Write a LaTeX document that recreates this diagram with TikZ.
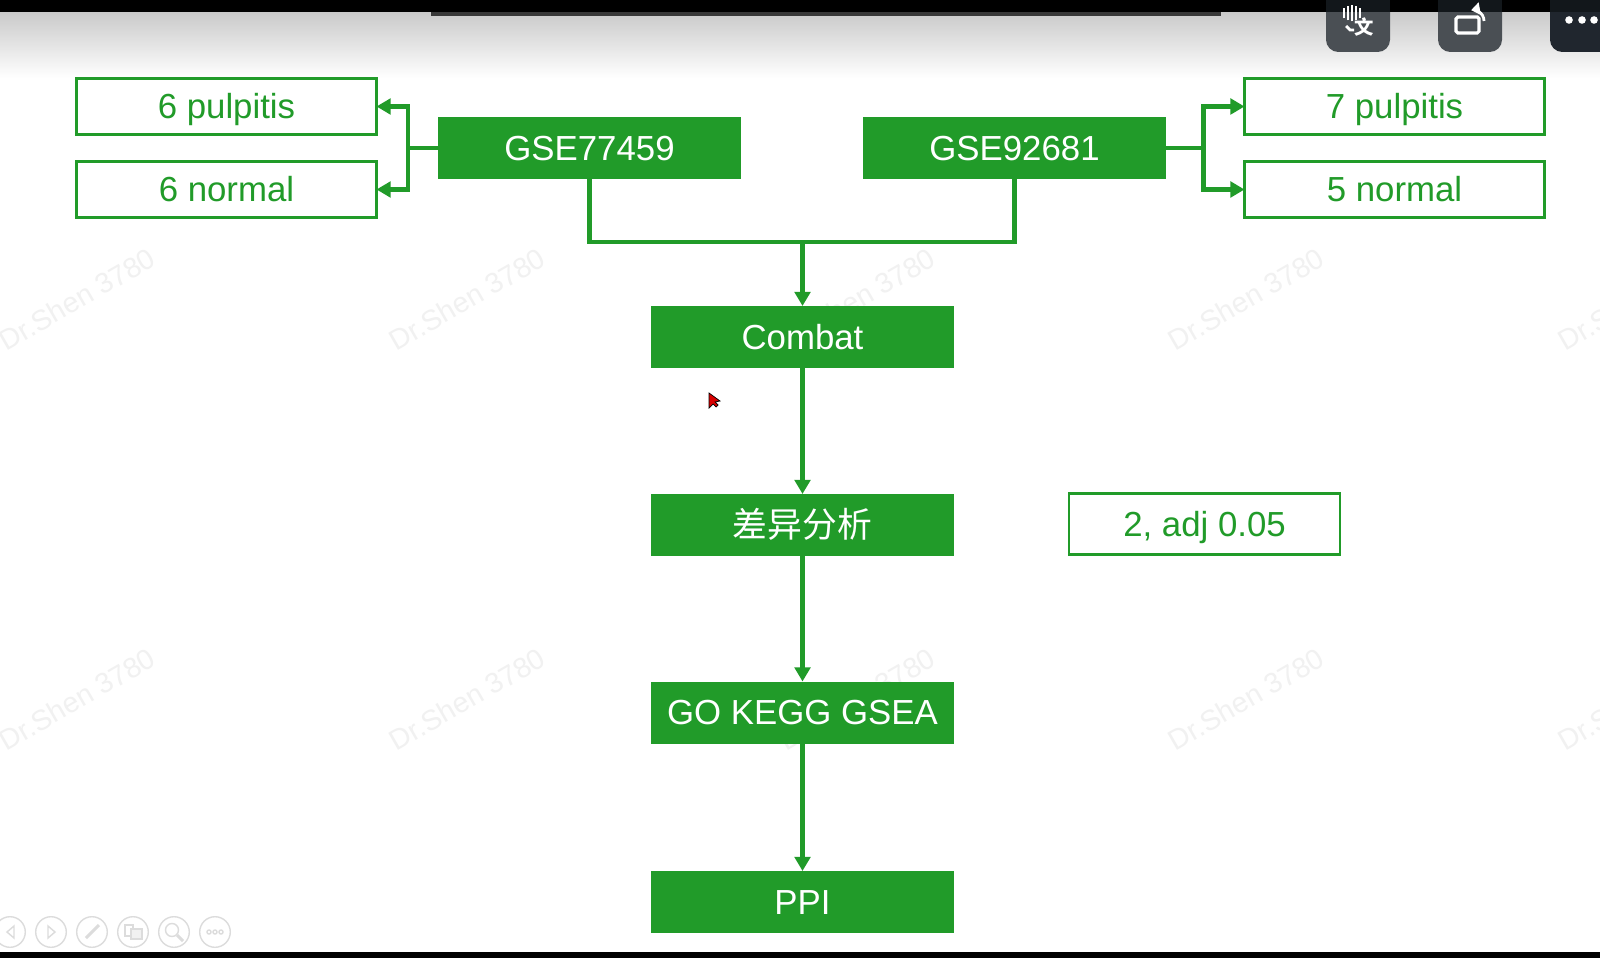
\documentclass[tikz,border=0pt]{standalone}
\usepackage{fontspec}
\setmainfont{Liberation Sans}
\newfontfamily\cjk{Noto Sans CJK SC}
\usepackage{xcolor}
\usetikzlibrary{arrows.meta, positioning}
\definecolor{boxgreen}{HTML}{219B29}
\definecolor{btngray}{HTML}{4A4F54}
\definecolor{btndark}{HTML}{20262E}
\definecolor{btntop}{HTML}{12171B}
\definecolor{iconline}{HTML}{DCDCDC}
\definecolor{markgray}{HTML}{F1F1F1}
\tikzset{
  fillbox/.style={fill=boxgreen, text=white, inner sep=0pt, outer sep=0pt, minimum width=3.03cm,
                  minimum height=0.62cm, text height=7.1pt, text depth=0pt,
                  font=\fontsize{9.9}{12}\selectfont},
  linebox/.style={draw=boxgreen, line width=0.7pt, fill=white, text=boxgreen, inner sep=0pt,
                  outer sep=0pt, minimum width=3.0cm, minimum height=0.56cm,
                  text height=7.1pt, text depth=0pt, font=\fontsize{9.9}{12}\selectfont},
  flow/.style={draw=boxgreen, line width=1.35pt, -{Triangle[length=4pt,width=4.4pt]}},
  stem/.style={draw=boxgreen, line width=1.35pt},
  watermark/.style={text=markgray, rotate=30, font=\fontsize{8.1}{10}\selectfont},
  navicon/.style={draw=iconline, line width=0.4pt}
}

\begin{document}
\begin{tikzpicture}[scale=1.0]
  \useasboundingbox (0,0) rectangle (16,9.58);
  \clip (0,0) rectangle (16,9.58);
  \fill[white] (0,0) rectangle (16,9.58);
  \shade[top color=black!21, bottom color=white] (0,8.8) rectangle (16,9.46);

  \foreach \x in {0.77,4.67,8.57,12.46,16.36}
    \foreach \y in {6.59,2.59}
      { \node[watermark] (water\x-\y) at (\x,\y) {Dr.Shen 3780}; }

  \fill[btngray, rounded corners=3.5pt] (13.26,9.06) rectangle (13.90,9.9);
  \fill[btngray, rounded corners=3.5pt] (14.38,9.06) rectangle (15.02,9.9);
  \fill[btndark, rounded corners=3.5pt] (15.50,9.06) rectangle (16.4,9.9);
  \fill[black] (0,9.46) rectangle (16,9.58);
  \foreach \a/\b in {13.26/13.90,14.38/15.02,15.50/16}
    { \fill[btntop] (\a,9.46) rectangle (\b,9.58); }
  \fill[black!78] (4.31,9.42) rectangle (12.21,9.46);

  \foreach \x/\h in {13.44/0.05,13.48/0.07,13.52/0.08,13.56/0.07,13.60/0.05}
    { \draw[white, line width=0.7pt] (\x,9.445-\h) -- (\x,9.445+\h); }
  \draw[white, line width=0.8pt] (13.46,9.32) -- (13.50,9.28) -- (13.54,9.28);
  \node[text=white, inner sep=0pt, font=\cjk\bfseries\fontsize{5.5}{6}\selectfont] (iconword) at (13.64,9.31) {文};
  \draw[white, line width=0.9pt, rounded corners=0.5pt] (14.56,9.25) rectangle (14.79,9.41);
  \draw[white, line width=0.8pt, -{Triangle[length=2.5pt,width=3.5pt]}] (14.84,9.37) arc (0:100:0.11);
  \foreach \x in {15.69,15.82,15.94}
    { \fill[white] (\x,9.38) circle (0.038); }

  \foreach \x in {0.10,0.51,0.92,1.33,1.74,2.15}
    { \draw[navicon] (\x,0.26) circle (0.153); }
  \draw[navicon] (0.14,0.20) -- (0.07,0.26) -- (0.14,0.32) -- cycle;
  \draw[navicon] (0.48,0.20) -- (0.55,0.26) -- (0.48,0.32) -- cycle;
  \draw[navicon, line width=0.9pt] (0.86,0.20) -- (0.99,0.33);
  \draw[navicon] (1.25,0.22) rectangle (1.33,0.33);
  \draw[navicon, fill=iconline!40] (1.31,0.19) rectangle (1.42,0.29);
  \draw[navicon] (1.72,0.28) circle (0.065);
  \draw[navicon, line width=0.9pt] (1.77,0.23) -- (1.83,0.17);
  \foreach \x in {2.09,2.15,2.21}
    { \draw[navicon] (\x,0.26) circle (0.02); }

  \fill[red!85!black, draw=black, line width=0.2pt] (7.09,5.65) -- (7.09,5.50) -- (7.13,5.54)
    -- (7.16,5.51) -- (7.18,5.53) -- (7.15,5.56) -- (7.20,5.57) -- cycle;

  \node[linebox] (pulpA) at (2.265,8.515) {6 pulpitis};
  \node[linebox] (normA) at (2.265,7.685) {6 normal};
  \node[fillbox] (gseA) at (5.895,8.10) {GSE77459};
  \node[fillbox] (gseB) at (10.145,8.10) {GSE92681};
  \node[linebox] (pulpB) at (13.945,8.515) {7 pulpitis};
  \node[linebox] (normB) at (13.945,7.685) {5 normal};
  \node[fillbox] (combat) at (8.025,6.21) {Combat};
  \node[fillbox] (diff) at (8.025,4.33) {\cjk 差异分析};
  \node[fillbox] (enrich) at (8.025,2.455) {GO KEGG GSEA};
  \node[fillbox] (ppi) at (8.025,0.56) {PPI};
  \node[linebox, minimum width=2.71cm, minimum height=0.61cm] (cutoff) at (12.045,4.34) {2, adj 0.05};

  \coordinate (splitA) at (4.08,8.10);
  \coordinate (splitB) at (12.035,8.10);
  \coordinate (merge) at (8.025,7.16);

  \draw[stem] (gseA.west) -- (splitA);
  \draw[flow] (splitA) |- (pulpA.east);
  \draw[flow] (splitA) |- (normA.east);
  \draw[stem] (gseB.east) -- (splitB);
  \draw[flow] (splitB) |- (pulpB.west);
  \draw[flow] (splitB) |- (normB.west);
  \draw[stem] (gseA.south) |- (merge);
  \draw[stem] (gseB.south) |- (merge);
  \draw[flow] (merge) -- (combat.north);
  \draw[flow] (combat.south) -- (diff.north);
  \draw[flow] (diff.south) -- (enrich.north);
  \draw[flow] (enrich.south) -- (ppi.north);

  \fill[black] (0,0) rectangle (16,0.06);
\end{tikzpicture}
\end{document}
